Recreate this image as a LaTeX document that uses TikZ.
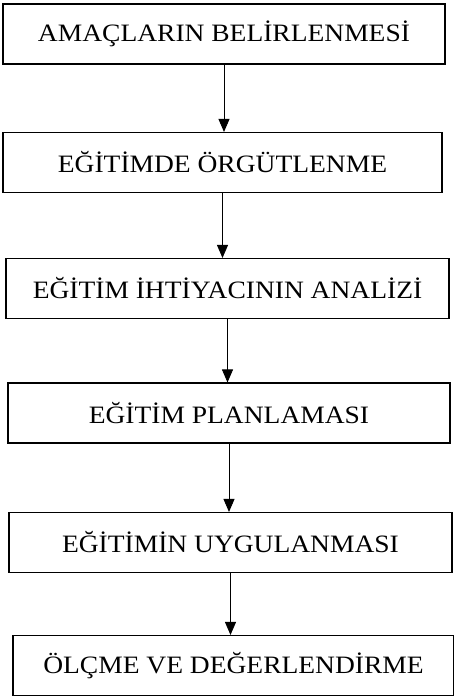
\documentclass[tikz,border=0pt]{standalone}
\usepackage{fontspec}
\setmainfont{Liberation Serif}[FakeStretch=1.1]
\usepackage{tikz}
\usetikzlibrary{arrows.meta, positioning}

\begin{document}
\begin{tikzpicture}[x=1pt, y=-1pt,
    every node/.style={font=\fontsize{25}{28}\selectfont},
    stage/.style={draw, line width=1.1pt, inner sep=0pt, minimum height=60pt},
    >={Triangle[length=13pt, width=11pt]}]
  \useasboundingbox (0,0) rectangle (454,699);

  % Stages
  \node[stage, minimum width=442pt] (amac)   at (224,34)    {AMAÇLARIN BELİRLENMESİ};
  \node[stage, minimum width=439pt] (orgut)  at (222.5,162.5) {EĞİTİMDE ÖRGÜTLENME};
  \node[stage, minimum width=443pt] (analiz) at (227.5,288.5) {EĞİTİM İHTİYACININ ANALİZİ};
  \node[stage, minimum width=442pt] (plan)   at (229,413)   {EĞİTİM PLANLAMASI};
  \node[stage, minimum width=443pt] (uygula) at (230.5,542.5) {EĞİTİMİN UYGULANMASI};
  \node[stage, minimum width=441pt] (olcme)  at (233.5,665.5) {ÖLÇME VE DEĞERLENDİRME};

  % Arrows
  \draw[->, line width=0.9pt] (amac.south)   -- (amac.south |- orgut.north);
  \draw[->, line width=0.9pt] (orgut.south)  -- (orgut.south |- analiz.north);
  \draw[->, line width=0.9pt] (analiz.south) -- (analiz.south |- plan.north);
  \draw[->, line width=0.9pt] (plan.south)   -- (plan.south |- uygula.north);
  \draw[->, line width=0.9pt] (uygula.south) -- (uygula.south |- olcme.north);
\end{tikzpicture}
\end{document}
